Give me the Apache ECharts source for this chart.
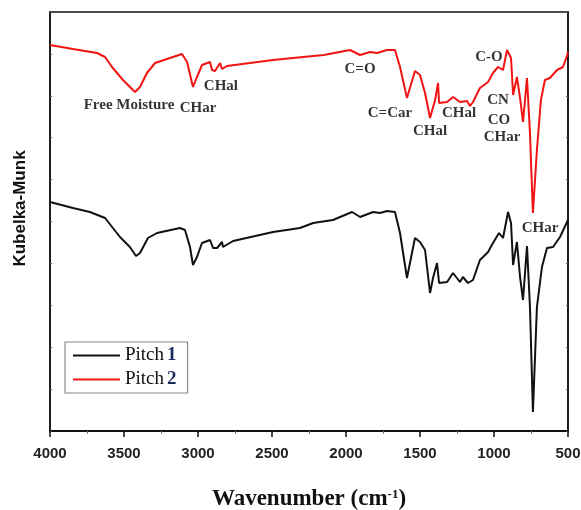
<!DOCTYPE html>
<html>
<head>
<meta charset="utf-8">
<script src="https://cdn.jsdelivr.net/npm/echarts@6/dist/echarts.min.js"></script>
<style>html,body{margin:0;padding:0;background:#fff}#c{width:581px;height:510px}</style>
</head>
<body>
<div id="c"></div>
<script>
// Pitch 2 (red, upper trace): [wavenumber, Kubelka-Munk (arb.)]
const pitch2 = [
[4000,386],[3845,382],[3682,378],[3628,374],[3581,364],[3507,351],[3426,339],[3392,344],[3345,358],[3290,368],
[3169,374],[3108,377],[3074,369],[3034,344],[3007,354],[2973,366],[2919,369],[2905,361],[2885,360],[2851,368],
[2838,362],[2804,365],[2493,371],[2290,374],[2150,376],[1973,381],[1905,376],[1838,379],[1790,378],[1723,381],
[1669,381],[1635,364],[1588,333],[1534,360],[1500,356],[1466,338],[1432,313],[1398,331],[1378,348],[1371,328],
[1317,329],[1277,334],[1230,329],[1182,330],[1162,325],[1142,329],[1095,343],[1040,349],[1007,358],[973,364],
[939,361],[912,381],[885,373],[871,336],[845,354],[824,333],[804,309],[777,353],[757,298],[737,218],
[710,281],[683,331],[656,351],[622,353],[574,361],[534,364],[507,375],[500,379]
];
// Pitch 1 (black, lower trace)
const pitch1 = [
[4000,229],[3845,223],[3730,219],[3628,213],[3527,194],[3460,184],[3419,175],[3392,178],[3338,193],[3277,198],
[3122,203],[3088,201],[3054,184],[3034,166],[3007,174],[2973,188],[2919,191],[2898,183],[2871,183],[2838,189],
[2831,184],[2763,190],[2493,199],[2311,203],[2222,208],[2088,211],[1959,219],[1905,214],[1817,219],[1770,218],
[1723,220],[1669,219],[1635,198],[1588,153],[1534,193],[1500,189],[1466,181],[1432,138],[1412,153],[1385,168],
[1371,148],[1317,149],[1277,158],[1230,149],[1210,154],[1176,148],[1142,151],[1095,171],[1040,179],[1007,188],
[966,198],[939,193],[905,219],[885,208],[871,166],[845,189],[824,154],[804,131],[777,185],[757,124],
[737,19],[710,124],[676,164],[642,183],[601,184],[554,194],[500,211]
];
// Band assignments: [wavenumber, value, label]
const bands = [
[3466,326,'Free Moisture'],[3000,323,'CHar'],[2845,345,'CHal'],[1905,362,'C=O'],[1703,318,'C=Car'],
[1432,300,'CHal'],[1236,318,'CHal'],[1034,374,'C-O'],[973,331,'CN'],[966,311,'CO'],[946,294,'CHar'],[689,203,'CHar']
];
const xTicks = [4000,3500,3000,2500,2000,1500,1000,500];

const chart = echarts.init(document.getElementById('c'));
chart.setOption({
  animation:false,
  backgroundColor:'#fff',
  grid:{left:50,right:13,top:12,bottom:79,containLabel:false,outerBoundsMode:'none',
    show:true,borderColor:'#111',borderWidth:1.5},
  legend:{
    orient:'vertical',left:65,top:342,
    data:['Pitch 1','Pitch 2'],
    icon:'rect',itemWidth:47,itemHeight:2,itemGap:5,itemStyle:{borderWidth:0},
    padding:[4,11,4,8],
    borderColor:'#888',borderWidth:1.2,borderRadius:0,
    formatter:function(n){const p=n.split(' ');return '{a|'+p[0]+'}{b|'+p[1]+'}';},
    textStyle:{fontFamily:'Liberation Serif',fontSize:19,color:'#111',
      rich:{a:{fontFamily:'Liberation Serif',fontSize:19,color:'#111'},b:{fontFamily:'Liberation Serif',fontSize:19,fontWeight:'bold',color:'#1a2a5a',padding:[0,0,0,3]}}}
  },
  xAxis:[{
    type:'value',inverse:true,min:500,max:4000,interval:500,
    axisLine:{show:true,lineStyle:{color:'#111',width:1.5}},
    axisTick:{show:true,length:6,lineStyle:{color:'#111',width:1.5}},
    minorTick:{show:true,splitNumber:2,length:3,lineStyle:{color:'#777'}},
    splitLine:{show:false},
    axisLabel:{margin:15,fontFamily:'Liberation Sans',fontWeight:'bold',fontSize:15,color:'#222',
      formatter:function(v){return xTicks.indexOf(v)>=0?String(v):'';}},
    name:'{b|Wavenumber (cm}{s|-1}{b|)}',nameLocation:'middle',nameGap:57,
    nameTextStyle:{rich:{b:{fontFamily:'Liberation Serif',fontWeight:'bold',fontSize:23,color:'#111'},
      s:{fontFamily:'Liberation Serif',fontWeight:'bold',fontSize:13,color:'#111',verticalAlign:'top',padding:[0,0,10,0]}}}
  },{
    type:'value',inverse:true,min:500,max:4000,interval:500,position:'top',
    axisLine:{show:true,lineStyle:{color:'#111',width:2}},
    axisTick:{show:true,inside:true,length:2,lineStyle:{color:'#333'}},
    axisLabel:{show:false},splitLine:{show:false}
  }],
  yAxis:[{
    type:'value',min:0,max:419,interval:41.9,
    axisLine:{show:true,lineStyle:{color:'#111',width:1.5}},
    axisTick:{show:true,inside:true,length:2,lineStyle:{color:'#555'}},
    axisLabel:{show:false},splitLine:{show:false},
    name:'Kubelka-Munk',nameLocation:'middle',nameGap:21,nameRotate:90,
    nameTextStyle:{fontFamily:'Liberation Sans',fontWeight:'bold',fontSize:17,color:'#111',padding:[0,0,0,26]}
  },{
    type:'value',min:0,max:419,interval:41.9,position:'right',
    axisLine:{show:true,lineStyle:{color:'#111',width:1.5}},
    axisTick:{show:true,inside:true,length:2,lineStyle:{color:'#555'}},
    axisLabel:{show:false},splitLine:{show:false}
  }],
  series:[
    {name:'Pitch 1',type:'line',data:pitch1,showSymbol:false,symbol:'none',smooth:false,
     lineStyle:{color:'#111',width:2},itemStyle:{color:'#111'},z:3},
    {name:'Pitch 2',type:'line',data:pitch2,showSymbol:false,symbol:'none',smooth:false,
     lineStyle:{color:'#f01414',width:2},itemStyle:{color:'#f01414'},z:3},
    {name:'bands',type:'scatter',data:bands.map(b=>({value:[b[0],b[1]],name:b[2]})),
     symbolSize:0,silent:true,z:5,
     label:{show:true,position:'inside',formatter:p=>p.name,
       fontFamily:'Liberation Serif',fontWeight:'bold',fontSize:15,color:'#000',
       textBorderWidth:0,textBorderColor:'transparent',textShadowBlur:0}}
  ]
});
</script>
</body>
</html>
